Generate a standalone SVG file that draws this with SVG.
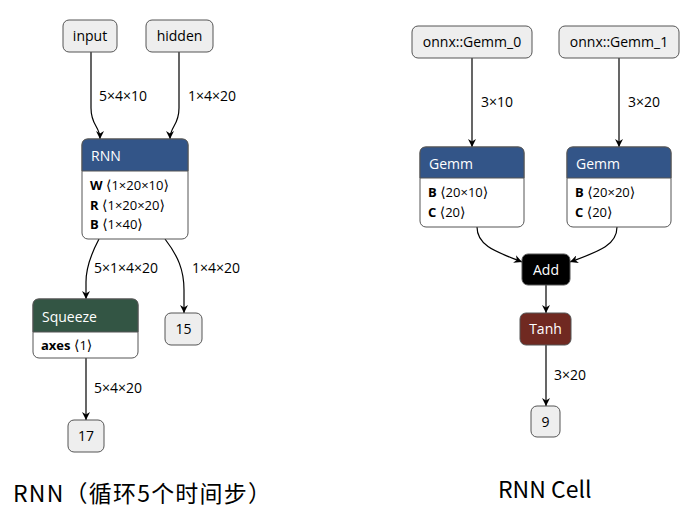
<svg xmlns="http://www.w3.org/2000/svg" width="693" height="523" viewBox="0 0 693 523">
<defs>
<marker id="arr" viewBox="0 0 10 10" refX="10" refY="5" markerWidth="8" markerHeight="8" markerUnits="userSpaceOnUse" orient="auto">
<path d="M0,0 L10,5 L0,10 L3,5 z" fill="#000"/>
</marker>
<style>
.io{fill:#eeeeee;stroke:#555;stroke-width:1}
.box{fill:#fff;stroke:#555;stroke-width:1}
.t{font-family:"Open Sans","Noto Sans",sans-serif;font-size:14px;fill:#000}
.h{font-family:"Open Sans","Noto Sans",sans-serif;font-size:14px;fill:#fff}
.a{font-family:"Open Sans","DejaVu Sans",sans-serif;font-size:13px;fill:#000}
.br{font-family:"DejaVu Sans",sans-serif;font-size:14px}
.b{font-weight:bold}
.e{font-family:"Open Sans","Noto Sans",sans-serif;font-size:14px;fill:#000}
.edge{fill:none;stroke:#000;stroke-width:1.2;marker-end:url(#arr)}
.cap{font-family:"Noto Sans CJK SC","Noto Sans",sans-serif;font-size:23px;fill:#000}
</style>
</defs>
<rect width="693" height="523" fill="#fff"/>

<g id="connectors">
<path class="edge" d="M91,52 L91,108 C91,126 100,126 100,139"/>
<path class="edge" d="M179,52 L179,108 C179,126 170,126 170,139"/>
<path class="edge" d="M99,239 C90,256 86,268 86,282 L86,299"/>
<path class="edge" d="M165,239 C178,256 184,270 184,290 L184,313"/>
<path class="edge" d="M86,358 L86,420"/>
<path class="edge" d="M472,58 L472,147"/>
<path class="edge" d="M619,58 L619,147"/>
<path class="edge" d="M477,227 C477,246 497,252 522,262"/>
<path class="edge" d="M617,227 C617,246 597,252 570,262"/>
<path class="edge" d="M546,285 L546,313"/>
<path class="edge" d="M546,345 L546,406"/>
<text class="e" x="99" y="101">5×4×10</text>
<text class="e" x="188" y="101">1×4×20</text>
<text class="e" x="94" y="273">5×1×4×20</text>
<text class="e" x="192" y="273">1×4×20</text>
<text class="e" x="94" y="393">5×4×20</text>
<text class="e" x="481" y="107">3×10</text>
<text class="e" x="628" y="107">3×20</text>
<text class="e" x="554" y="380">3×20</text>
</g>

<g id="input">
<rect class="io" x="63" y="20" width="54" height="32" rx="6"/>
<text class="t" x="90" y="41" text-anchor="middle">input</text>
</g>
<g id="hidden">
<rect class="io" x="146" y="20" width="67" height="32" rx="6"/>
<text class="t" x="179.5" y="41" text-anchor="middle">hidden</text>
</g>

<g id="rnn">
<rect class="box" x="82" y="139" width="106" height="100" rx="6"/>
<path d="M82,171 L82,145 Q82,139 88,139 L182,139 Q188,139 188,145 L188,171 Z" fill="#335588" stroke="#555"/>
<text class="h" x="91" y="161">RNN</text>
<text class="a" x="90" y="190"><tspan class="b">W</tspan> <tspan class="br">⟨</tspan>1×20×10<tspan class="br">⟩</tspan></text>
<text class="a" x="90" y="210"><tspan class="b">R</tspan> <tspan class="br">⟨</tspan>1×20×20<tspan class="br">⟩</tspan></text>
<text class="a" x="90" y="229"><tspan class="b">B</tspan> <tspan class="br">⟨</tspan>1×40<tspan class="br">⟩</tspan></text>
</g>

<g id="squeeze">
<rect class="box" x="33" y="299" width="105" height="59" rx="6"/>
<path d="M33,332 L33,305 Q33,299 39,299 L132,299 Q138,299 138,305 L138,332 Z" fill="#335544" stroke="#555"/>
<text class="h" x="42" y="322">Squeeze</text>
<text class="a" x="41" y="350"><tspan class="b">axes</tspan> <tspan class="br">⟨</tspan>1<tspan class="br">⟩</tspan></text>
</g>

<g id="out15">
<rect class="io" x="165" y="313" width="37" height="32" rx="6"/>
<text class="t" x="183.5" y="334" text-anchor="middle">15</text>
</g>
<g id="out17">
<rect class="io" x="68" y="420" width="36" height="32" rx="6"/>
<text class="t" x="86" y="441" text-anchor="middle">17</text>
</g>

<g id="gemm0in">
<rect class="io" x="412" y="26" width="120" height="32" rx="6"/>
<text class="t" x="472" y="47" text-anchor="middle">onnx::Gemm_0</text>
</g>
<g id="gemm1in">
<rect class="io" x="559" y="26" width="120" height="32" rx="6"/>
<text class="t" x="619" y="47" text-anchor="middle">onnx::Gemm_1</text>
</g>

<g id="gemm_left">
<rect class="box" x="420" y="147" width="104" height="80" rx="6"/>
<path d="M420,178 L420,153 Q420,147 426,147 L518,147 Q524,147 524,153 L524,178 Z" fill="#335588" stroke="#555"/>
<text class="h" x="429" y="169">Gemm</text>
<text class="a" x="428" y="197"><tspan class="b">B</tspan> <tspan class="br">⟨</tspan>20×10<tspan class="br">⟩</tspan></text>
<text class="a" x="428" y="217"><tspan class="b">C</tspan> <tspan class="br">⟨</tspan>20<tspan class="br">⟩</tspan></text>
</g>
<g id="gemm_right">
<rect class="box" x="567" y="147" width="104" height="80" rx="6"/>
<path d="M567,178 L567,153 Q567,147 573,147 L665,147 Q671,147 671,153 L671,178 Z" fill="#335588" stroke="#555"/>
<text class="h" x="576" y="169">Gemm</text>
<text class="a" x="575" y="197"><tspan class="b">B</tspan> <tspan class="br">⟨</tspan>20×20<tspan class="br">⟩</tspan></text>
<text class="a" x="575" y="217"><tspan class="b">C</tspan> <tspan class="br">⟨</tspan>20<tspan class="br">⟩</tspan></text>
</g>

<g id="add">
<rect x="522" y="254" width="48" height="31" rx="6" fill="#000" stroke="#555"/>
<text class="h" x="546" y="275" text-anchor="middle">Add</text>
</g>
<g id="tanh">
<rect x="520" y="313" width="51" height="32" rx="6" fill="#702921" stroke="#555"/>
<text class="h" x="545.5" y="334" text-anchor="middle">Tanh</text>
</g>
<g id="out9">
<rect class="io" x="531" y="406" width="29" height="31" rx="6"/>
<text class="t" x="545.5" y="427" text-anchor="middle">9</text>
</g>

<text class="cap" x="13" y="502" textLength="258" lengthAdjust="spacing">RNN（循环5个时间步）</text>
<text class="cap" x="498" y="498">RNN Cell</text>
</svg>
